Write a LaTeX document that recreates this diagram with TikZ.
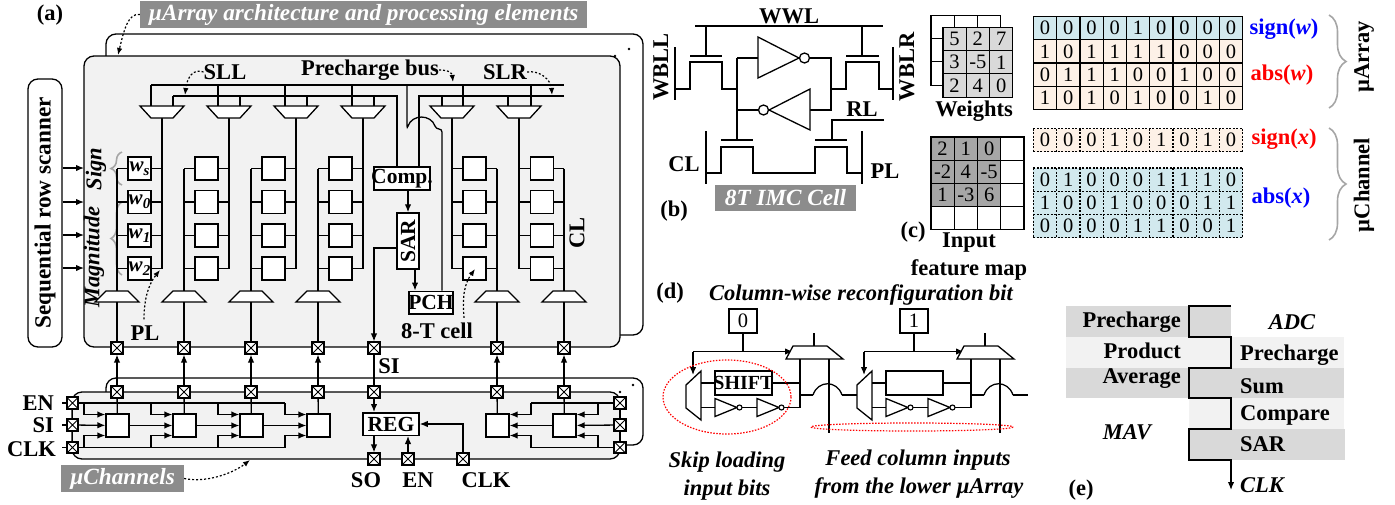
\documentclass[tikz,border=0pt]{standalone}
\usepackage{fontspec}
\setmainfont{Liberation Serif}
\usetikzlibrary{arrows.meta,calc,decorations.pathreplacing}

\definecolor{tagGray}{HTML}{8C8C8C}
\definecolor{panelGray}{HTML}{F2F2F2}
\definecolor{waveGray}{HTML}{D9D9D9}
\definecolor{inGray}{HTML}{A6A6A6}
\definecolor{bitBlue}{HTML}{D2E9EE}
\definecolor{bitPeach}{HTML}{FDF1E7}

\def\fsz#1{\fontsize{#1}{#1}\selectfont}
\tikzset{
	wire/.style={line width=1.3pt},
	flow/.style={line width=1.3pt,-{Latex[length=8pt,width=6.5pt]}},
	noteline/.style={line width=1.2pt,dash pattern=on 2pt off 2pt,-{Latex[length=7pt,width=5.5pt]}},
	lab/.style={font=\fsz{22.5}\bfseries,inner sep=0pt},
	ilab/.style={font=\fsz{22.5}\bfseries\itshape,inner sep=0pt},
	tagbox/.style={fill=tagGray,text=white,font=\fsz{23.2}\bfseries\itshape,inner sep=0pt},
	cellbox/.style={draw,line width=1.3pt,fill=white,minimum size=23pt,inner sep=0pt},
	labbox/.style={draw,line width=1.5pt,fill=white,inner sep=0pt,font=\fsz{21.5}\bfseries},
	xpad/.style={draw,line width=1.6pt,fill=white,minimum size=11.5pt,inner sep=0pt,
		path picture={\draw[line width=1pt] (path picture bounding box.south west) -- (path picture bounding box.north east)
			(path picture bounding box.north west) -- (path picture bounding box.south east);}},
	gridcell/.style={draw,line width=1.2pt,minimum size=23.26pt,inner sep=0pt,font=\fsz{20.5}},
	dotcell/.style={minimum size=23.26pt,inner sep=0pt,font=\fsz{20.5}},
	dotline/.style={line width=1.2pt,dash pattern=on 2pt off 1.5pt},
	gbrace/.style={draw=inGray,line width=1.6pt,decorate},
}
\def\muxdown(#1,#2){\draw[wire,fill=white] (#1-22,#2) -- (#1+22,#2) -- (#1+11,#2+12) -- (#1-11,#2+12) -- cycle;}
\def\muxup(#1,#2){\draw[wire,fill=white] (#1-11,#2) -- (#1+11,#2) -- (#1+22,#2+11) -- (#1-22,#2+11) -- cycle;}
\def\smallinv(#1,#2){\draw[wire,fill=white] (#1,#2-9) -- (#1+22,#2) -- (#1,#2+9) -- cycle; \draw[line width=1.1pt,fill=white] (#1+24.5,#2) circle (2.5);}
\def\cellrow#1#2#3#4#5{\foreach \b [count=\c] in {#5} {\node[#2] (#1-\c) at ({#3+23.26*(\c-1)},#4) {\b};}}
\def\jump(#1,#2){(#1,#2) .. controls (#1+5,#2-15) and (#1+24,#2-15) .. (#1+29,#2)}

\begin{document}
\begin{tikzpicture}[x=1pt,y=-1pt]
	\useasboundingbox (0,0) rectangle (1395,504);
	%%%%% (a) %%%%%

	\node[lab] (tagA) at (50,15) {(a)};
	\node[tagbox,minimum width=447pt,minimum height=27pt] (tagArray) at (363.5,14.5) {µArray architecture and processing elements};

	\draw[wire,rounded corners=10pt] (106,56) -- (106,34) -- (643,34) -- (643,335) -- (620,335);
	\draw[wire,rounded corners=10pt,fill=panelGray] (84,56) rectangle (620,347);
	\fill (629,49) circle (1.3);
	\fill (615,56) circle (1.3);

	\node[draw,line width=1.3pt,rounded corners=10pt,minimum width=268pt,minimum height=34pt,rotate=90,lab,font=\fsz{23.2}\bfseries] (scanner) at (45,213) {Sequential row scanner};
	\foreach \yy in {168,202,235,268} {
		\coordinate (scan\yy) at (scanner.south |- 0,\yy);
		\draw[flow] (scan\yy) -- (84,\yy);
	}
	\node[ilab,rotate=90] (signLab) at (96,169) {Sign};
	\node[ilab,rotate=90] (magLab) at (94,257) {Magnitude};
	\draw[gbrace,decoration={brace,amplitude=11pt}] (122,185) -- (122,152);
	\draw[gbrace,decoration={brace,amplitude=11pt}] (122,275) -- (122,202);

	% bit line buses above the muxes
	\draw[wire] (151,85) -- (564,85);
	\draw[wire] (173,96) -| (397,167);
	\draw[wire] (564,96) -| (419,167);

	\foreach \col/\lx/\rx/\tx/\bx/\ua/\lb/\cx in {1/117/162/162/117/151/173/139.5,2/184/229/229/184/218/240/206.5,3/251/296/296/251/285/307/273.5,4/318/363/363/318/352/374/340.5,5/452/497/452/497/463/442/474.5,6/519/564/519/564/531/508/542} {
		\draw[wire] (\ua,85) -- (\ua,106);
		\draw[wire] (\lb,96) -- (\lb,106);
		\draw[wire] (\tx,118) -- (\tx,268.5);
		\draw[wire] (\bx,168.5) -- (\bx,291);
		\muxdown(\tx,106)
		\muxup(\bx,291)
		\foreach \row/\yy in {1/168.5,2/202,3/235.5,4/268.5} {
			\draw[wire] (\lx,\yy) -- (\rx,\yy);
			\node[cellbox] (c\col\row) at (\cx,\yy) {};
		}
		\node[xpad] (xu\col) at (\bx,348) {};
		\node[xpad] (xd\col) at (\bx,392) {};
		\draw[wire] (\bx,302) -- (xu\col);
	}
	\node[font=\fsz{21}\bfseries\itshape,inner sep=0pt] (w3) at (c11) {w\raisebox{-4pt}{\fsz{15}s}};
	\node[font=\fsz{21}\bfseries\itshape,inner sep=0pt] (w0) at (c12) {w\raisebox{-4pt}{\fsz{15}0}};
	\node[font=\fsz{21}\bfseries\itshape,inner sep=0pt] (w1) at (c13) {w\raisebox{-4pt}{\fsz{15}1}};
	\node[font=\fsz{21}\bfseries\itshape,inner sep=0pt] (w2) at (c14) {w\raisebox{-4pt}{\fsz{15}2}};

	\node[labbox,minimum width=56pt,minimum height=23pt] (comp) at (402,178.5) {\makebox[0pt]{Comp.}};
	\node[labbox,rotate=90,minimum width=56pt,minimum height=22pt] (sar) at (408,241) {SAR};
	\node[labbox,minimum width=44pt,minimum height=22.5pt] (pch) at (431,302.5) {\makebox[0pt]{PCH}};
	\draw[flow] ([xshift=6pt]comp.south) -- (sar.east);
	\draw[flow] ([xshift=7pt]sar.west) -- ([xshift=7pt]sar.west |- pch.north);
	\draw[wire,rounded corners=3pt] (407,85) -- \jump(407,129) -- ([xshift=11pt]pch.north |- 0,129) -- ([xshift=11pt]pch.north);

	\node[xpad] (xuS) at (374,348) {};
	\node[xpad] (xdS) at (374,392) {};
	\coordinate (sarTap) at (397,248);
	\draw[flow] (sarTap) -| (xuS);
	\draw[wire] (xuS) -- (xdS);

	\node[lab] (SLL) at (225,72) {SLL};
	\node[lab] (busLab) at (370,70) {Precharge bus};
	\node[lab] (SLR) at (505,72) {SLR};
	\node[lab] (CLa) at (577,233) [rotate=90] {CL};
	\node[lab] (PLa) at (145,333) {PL};
	\node[lab] (cellLab) at (437,331) {8-T cell};
	\node[lab] (SIa) at (389,366) {SI};
	\draw[noteline] (tagArray.west) .. controls (128,13) and (124,30) .. (118,55);
	\draw[noteline] (SLL.west) .. controls (193,68) and (187,78) .. (185,95);
	\draw[noteline] (busLab.east) .. controls (449,70) and (452,73) .. (453,82);
	\draw[noteline] (SLR.east) .. controls (540,70) and (551,80) .. (552,95);
	\draw[noteline] (PLa.north) ++(-1,-6) .. controls (144,300) and (148,285) .. (160,270);
	\draw[noteline] (cellLab.north) ++(27,-5) .. controls (462,295) and (465,283) .. (475,269);

	%%%%% channels %%%%%

	\draw[wire,rounded corners=10pt] (106,392) -- (106,378) -- (643,378) -- (643,445) -- (620,445);
	\draw[wire,rounded corners=10pt,fill=panelGray] (72,392) rectangle (620,459);
	\fill (633,385) circle (1.3);
	\fill (620,392) circle (1.3);

	\foreach \i/\xx in {1/117.5,2/184.5,3/251.5,4/318.5,5/497.5,6/564.5} {
		\node[cellbox] (ch\i) at (\xx,425.5) {};
		\draw[wire] (ch\i) -- (xd\i);
	}
	\foreach \i in {1,2,3,4,5,6} {
		\draw[flow] (xd\i) -- (xu\i);
		\node[xpad] at (xd\i) {};
		\node[xpad] at (xu\i) {};
	}
	\node[xpad] at (xuS) {};
	\node[xpad] at (xdS) {};

	\node[xpad] (enL) at (72.5,403) {};
	\node[xpad] (siL) at (72.5,425) {};
	\node[xpad] (clkL) at (72.5,447.5) {};
	\node[xpad] (enR) at (620,403) {};
	\node[xpad] (siR) at (620,425) {};
	\node[xpad] (clkR) at (620,447.5) {};
	\draw[wire] (enL) -- (siL) -- (clkL);
	\draw[wire] (enR) -- (siR) -- (clkR);
	\draw[wire] (enL) -- (285,403);
	\draw[wire] (clkL) -- (285,447.5);
	\draw[wire] (enR) -- (531,403);
	\draw[wire] (clkR) -- (531,447.5);
	\foreach \i/\bx in {1/84,2/151,3/218,4/285} {
		\draw[flow] (\bx,403) |- ([yshift=11pt]ch\i.west);
		\draw[flow] (\bx,447.5) |- ([yshift=-10pt]ch\i.west);
	}
	\foreach \i/\bx in {5/531,6/598} {
		\draw[flow] (\bx,403) |- ([yshift=11pt]ch\i.east);
		\draw[flow] (\bx,447.5) |- ([yshift=-10pt]ch\i.east);
	}
	\draw[flow] (siL) -- (ch1);
	\draw[flow] (ch1) -- (ch2);
	\draw[flow] (ch2) -- (ch3);
	\draw[flow] (ch3) -- (ch4);
	\draw[flow] (siR) -- (ch6);
	\draw[flow] (ch6) -- (ch5);

	\node[labbox,minimum width=56pt,minimum height=22.5pt] (reg) at (391,424) {REG};
	\node[xpad] (xSO) at (374,459) {};
	\node[xpad] (xEN) at (408,459) {};
	\node[xpad] (xCK) at (463,459) {};
	\draw[flow] (xdS) -- (reg.north -| xdS);
	\draw[flow] (reg.south -| xSO) -- (xSO);
	\draw[flow] (xEN) -- (reg.south -| xEN);
	\draw[flow] (xCK) |- (reg.east);

	\node[lab,anchor=east] (ENl) at (54,403) {EN};
	\node[lab,anchor=east] (SIl) at (54,425) {SI};
	\node[lab,anchor=east] (CLKl) at (56,449) {CLK};
	\coordinate (enT) at (62,403);
	\coordinate (siT) at (62,425);
	\coordinate (clkT) at (62,447.5);
	\draw[wire] (enT) -- (enL);
	\draw[wire] (siT) -- (siL);
	\draw[wire] (clkT) -- (clkL);
	\node[lab] (SOl) at (366,480) {SO};
	\node[lab] (ENb) at (418,480) {EN};
	\node[lab] (CLKb) at (486,480) {CLK};
	\node[tagbox,minimum width=123pt,minimum height=27pt] (tagChan) at (122.5,478.5) {µChannels};
	\draw[noteline] (tagChan.east) .. controls (205,483) and (232,474) .. (250,460);

	%%%%% (b) %%%%%

	\node[lab] (WWL) at (789,16) {WWL};
	\draw[wire] (695,26) -- (883,26);
	\draw[wire] (706,26) -- (706,56);
	\draw[wire] (862,26) -- (862,56);
	\draw[wire] (690,56) -- (722,56);
	\draw[wire] (846,56) -- (879,56);
	\draw[wire] (675,47) -- (675,100);
	\draw[wire] (893,47) -- (893,100);
	\draw[wire] (675,89) -- (690,89) -- (690,62) -- (722,62) -- (722,89) -- (737,89);
	\draw[wire] (831,89) -- (846,89) -- (846,62) -- (879,62) -- (879,89) -- (893,89);
	\draw[wire] (737,58) -- (737,140);
	\draw[wire] (737,58) -- (758,58);
	\draw[wire] (737,110) -- (758,110);
	\draw[wire] (810,58) -- (831,58) -- (831,110) -- (810,110);
	\draw[wire,fill=white] (758,37) -- (799,58) -- (758,78) -- cycle;
	\draw[wire,fill=white] (804.5,58) circle (5);
	\draw[wire,fill=white] (810,89) -- (769,110) -- (810,130) -- cycle;
	\draw[wire,fill=white] (763.5,110) circle (5);
	\draw[wire] (884,120) -- (832,120) -- (832,140);
	\draw[wire] (721,140) -- (753,140);
	\draw[wire] (815,140) -- (847,140);
	\draw[wire] (706,173) -- (721,173) -- (721,147) -- (753,147) -- (753,173) -- (815,173) -- (815,147) -- (847,147) -- (847,173) -- (862,173);
	\draw[wire] (706,131) -- (706,184);
	\draw[wire] (862,131) -- (862,184);
	\node[lab,rotate=90] (WBLL) at (661,67) {WBLL};
	\node[lab,rotate=90] (WBLR) at (907,67) {WBLR};
	\node[lab] (RL) at (862,109) {RL};
	\node[lab] (CLb) at (684,164) {CL};
	\node[lab] (PLb) at (885,171) {PL};
	\node[tagbox,minimum width=141pt,minimum height=26pt] (tagCell) at (785.5,198) {8T IMC Cell};
	\node[lab] (tagB) at (674,211) {(b)};

	%%%%% (c) %%%%%

	\cellrow{bw1}{gridcell,fill=white}{942.7}{27.1}{~,~,~}
	\cellrow{bw2}{gridcell,fill=white}{942.7}{50.3}{~,~,~}
	\cellrow{bw3}{gridcell,fill=white}{942.7}{73.5}{~,~,~}
	\cellrow{fw1}{gridcell,fill=waveGray}{954.6}{39.1}{5,2,7}
	\cellrow{fw2}{gridcell,fill=waveGray}{954.6}{62.3}{3,-5,1}
	\cellrow{fw3}{gridcell,fill=waveGray}{954.6}{85.5}{2,4,0}
	\node[lab] (weights) at (974,111) {Weights};

	\cellrow{in1}{gridcell,fill=inGray}{942.6}{148.6}{2,1,0}
	\cellrow{in2}{gridcell,fill=inGray}{942.6}{171.8}{-2,4,-5}
	\cellrow{in3}{gridcell,fill=inGray}{942.6}{195}{1,-3,6}
	\cellrow{ine1}{gridcell,fill=white}{1012.4}{148.6}{~}
	\cellrow{ine2}{gridcell,fill=white}{1012.4}{171.8}{~}
	\cellrow{ine3}{gridcell,fill=white}{1012.4}{195}{~}
	\cellrow{in4}{gridcell,fill=white}{942.6}{218.2}{~,~,~,~}
	\node[lab] (tagC) at (913,232) {(c)};
	\node[lab] (inputA) at (969,243) {Input};
	\node[lab] (inputB) at (969,270) {feature map};

	\cellrow{sw}{gridcell,fill=bitBlue}{1045}{28.2}{0,0,0,0,1,0,0,0,0}
	\cellrow{aw1}{gridcell,fill=bitPeach}{1045}{51.4}{1,0,1,1,1,1,0,0,0}
	\cellrow{aw2}{gridcell,fill=bitPeach}{1045}{74.6}{0,1,1,1,0,0,1,0,0}
	\cellrow{aw3}{gridcell,fill=bitPeach}{1045}{97.9}{1,0,1,0,1,0,0,1,0}
	\cellrow{sx}{dotcell,fill=bitPeach}{1045}{140.2}{0,0,0,1,0,1,0,1,0}
	\cellrow{ax1}{dotcell,fill=bitBlue}{1045}{179.7}{0,1,0,0,0,1,1,1,0}
	\cellrow{ax2}{dotcell,fill=bitBlue}{1045}{203}{1,0,0,1,0,0,0,1,1}
	\cellrow{ax3}{dotcell,fill=bitBlue}{1045}{226.2}{0,0,0,0,1,1,0,0,1}
	\foreach \c in {0,...,9} {
		\draw[dotline] ({1033.37+23.26*\c},128.57) -- ({1033.37+23.26*\c},151.83);
		\draw[dotline] ({1033.37+23.26*\c},168.07) -- ({1033.37+23.26*\c},237.85);
	}
	\foreach \yy in {128.57,151.83,168.07,191.33,214.6,237.85} {
		\draw[dotline] (1033.37,\yy) -- (1242.71,\yy);
	}

	\node[lab,text=blue] (signw) at (1284,29) {sign(\textit{w})};
	\node[lab,text=red] (absw) at (1282,75) {abs(\textit{w})};
	\node[lab,text=red] (signx) at (1284,139) {sign(\textit{x})};
	\node[lab,text=blue] (absx) at (1281,198) {abs(\textit{x})};
	\draw[gbrace,decoration={brace,amplitude=17pt}] (1329,15) -- (1329,108);
	\draw[gbrace,decoration={brace,amplitude=17pt}] (1329,128) -- (1329,240);
	\node[lab,rotate=90] (arrLab) at (1364,57) {µArray};
	\node[lab,rotate=90] (chanLab) at (1364,185) {µChannel};

	%%%%% (d) %%%%%

	\node[lab] (tagD) at (670,293) {(d)};
	\node[ilab] (cfgLab) at (861,295) {Column-wise reconfiguration bit};
	\foreach \dx/\bit in {0/0,171/1} {
		\node[draw,line width=1.3pt,minimum width=28pt,minimum height=24pt,inner sep=0pt,font=\fsz{20.5}] (cfg\bit) at (743+\dx,321) {\bit};
		\draw[wire] (cfg\bit) -- (743+\dx,351.5);
		\draw[flow] (693+\dx,351.5) -- (793+\dx,351.5);
		\draw[flow] (693+\dx,351.5) -- (693+\dx,375);
		\draw[wire] (814+\dx,333) -- (814+\dx,346);
		\draw[wire,fill=white] (793+\dx,346) -- (827+\dx,346) -- (843+\dx,359) -- (786+\dx,359) -- cycle;
		\draw[wire,fill=white] (701+\dx,371) -- (701+\dx,420) -- (686+\dx,408) -- (686+\dx,385) -- cycle;
		\node[draw,line width=1.3pt,minimum width=57pt,minimum height=24pt,inner sep=0pt] (sft\bit) at (743.5+\dx,383) {};
		\draw[wire] (701+\dx,383) -- (sft\bit);
		\draw[wire] (sft\bit) -- (800+\dx,383);
		\draw[wire] (800+\dx,359) -- (800+\dx,407.5) -- (781+\dx,407.5);
		\draw[wire] (701+\dx,407.5) -- (715+\dx,407.5);
		\draw[wire] (739+\dx,407.5) -- (757+\dx,407.5);
		\smallinv(715+\dx,407.5)
		\smallinv(757+\dx,407.5)
		\draw[wire] (829+\dx,359) -- (829+\dx,433);
		\draw[wire] (800+\dx,395) -- (813+\dx,395);
		\draw[wire] \jump(813+\dx,395);
	}
	\draw[wire] (842,395) -- (857,395);
	\draw[wire] (1013,395) -- (1028,395);
	\node[lab,font=\fsz{20}\bfseries] (shiftLab) at (sft0) {SHIFT};
	\draw[red,line width=1.2pt,dash pattern=on 1.5pt off 1.5pt] (727,397) ellipse [x radius=64,y radius=37];
	\draw[red,line width=1.2pt,dash pattern=on 1.5pt off 1.5pt] (912,427) ellipse [x radius=101,y radius=4];
	\node[ilab] (skipA) at (727,462) {Skip loading};
	\node[ilab] (skipB) at (727,490) {input bits};
	\node[ilab] (feedA) at (918,460) {Feed column inputs};
	\node[ilab] (feedB) at (919,488) {from the lower µArray};

	%%%%% (e) %%%%%

	\fill[waveGray] (1066,306) rectangle (1231,337);
	\fill[panelGray] (1066,337) rectangle (1344,368);
	\fill[waveGray] (1066,368) rectangle (1344,398);
	\fill[panelGray] (1189,398) rectangle (1344,429);
	\fill[waveGray] (1189,429) rectangle (1345,460);
	\draw[flow,line width=1.4pt] (1231,306) -- (1189,306) -- (1189,337) -- (1231,337) -- (1231,368) -- (1189,368) -- (1189,398) -- (1231,398) -- (1231,429) -- (1189,429) -- (1189,460) -- (1231,460) -- (1231,490);
	\node[lab,anchor=east] (preL) at (1181,322) {Precharge};
	\node[lab,anchor=east] (proL) at (1181,351) {Product};
	\node[lab,anchor=east] (avgL) at (1181,379) {Average};
	\node[ilab] (adc) at (1292,322) {ADC};
	\node[lab,anchor=west] (preR) at (1240,355) {Precharge};
	\node[lab,anchor=west] (sumR) at (1240,386) {Sum};
	\node[lab,anchor=west] (cmpR) at (1240,415) {Compare};
	\node[lab,anchor=west] (sarR) at (1240,444) {SAR};
	\node[ilab] (mav) at (1127,432) {MAV};
	\node[ilab,anchor=west] (clkE) at (1240,485) {CLK};
	\node[lab] (tagE) at (1081,490) {(e)};

	%%%%% END %%%%%
\end{tikzpicture}
\end{document}
